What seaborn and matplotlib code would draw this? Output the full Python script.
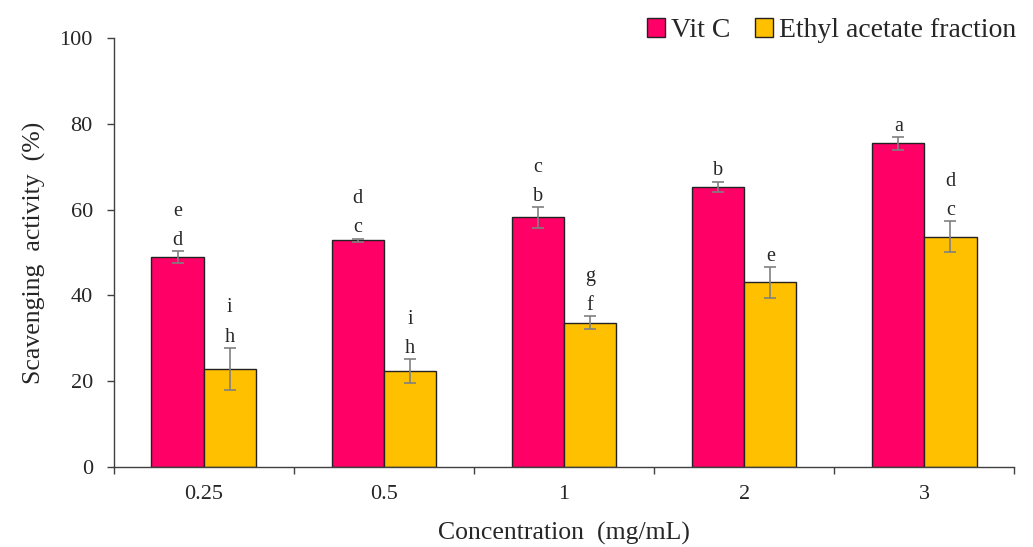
import numpy as np
import pandas as pd
import seaborn as sns
import matplotlib.pyplot as plt
from matplotlib.patches import Patch

concentrations = ["0.25", "0.5", "1", "2", "3"]
series = ["Vit C", "Ethyl acetate fraction"]

vitc_mean = [48.9, 52.8, 58.2, 65.3, 75.4]
vitc_err = [1.4, 0.4, 2.4, 1.2, 1.5]
ethyl_mean = [22.9, 22.3, 33.6, 43.0, 53.7]
ethyl_err = [4.9, 2.8, 1.5, 3.6, 3.6]

# significance letters (lower line, upper line)
vitc_lower = ["d", "c", "b", "b", "a"]
vitc_upper = ["e", "d", "c", "", ""]
ethyl_lower = ["h", "h", "f", "e", "c"]
ethyl_upper = ["i", "i", "g", "", "d"]

colors = ["#FF0066", "#FFC000"]

df = pd.DataFrame({
    "conc": concentrations * 2,
    "series": [series[0]] * 5 + [series[1]] * 5,
    "value": vitc_mean + ethyl_mean,
})

sns.set_style("white")
plt.rcParams["font.family"] = ["Liberation Serif", "DejaVu Serif"]

fig = plt.figure(figsize=(10.33, 5.47), dpi=100)
ax = fig.add_axes([0.110, 0.146, 0.872, 0.785])

sns.barplot(data=df, x="conc", y="value", hue="series", order=concentrations,
            hue_order=series, palette=colors, width=0.58, errorbar=None,
            edgecolor="#222222", linewidth=1.0, saturation=1, ax=ax, legend=False)

means = [vitc_mean, ethyl_mean]
errs = [vitc_err, ethyl_err]
lowers = [vitc_lower, ethyl_lower]
uppers = [vitc_upper, ethyl_upper]
bar_groups = list(ax.containers)
for k, cont in enumerate(bar_groups):
    xs = [p.get_x() + p.get_width() / 2 for p in cont.patches]
    ax.errorbar(xs, means[k], yerr=errs[k], fmt="none", ecolor="#808080",
                elinewidth=1.2, capsize=4, capthick=1.2, zorder=3)
    for i, x in enumerate(xs):
        top = means[k][i] + errs[k][i]
        ax.annotate(lowers[k][i], (x, top), xytext=(0, 4.5), textcoords="offset points",
                    ha="center", va="baseline", fontsize=14.5)
        if uppers[k][i]:
            ax.annotate(uppers[k][i], (x, top), xytext=(0, 25.5), textcoords="offset points",
                        ha="center", va="baseline", fontsize=14.5)

ax.set_ylim(0, 100)
ax.set_xlim(-0.5, 4.5)
ax.set_yticks(np.arange(0, 101, 20))
ax.set_xticks(range(5))
ax.set_xticklabels(concentrations)
ax.set_xticks(np.arange(-0.5, 5, 1), minor=True)
ax.tick_params(axis="x", which="major", length=0, pad=13, labelsize=16)
ax.tick_params(axis="x", which="minor", length=5, width=1, direction="out", color="#404040")
ax.tick_params(axis="y", length=5, width=1, direction="out", color="#404040", labelsize=16, pad=10)
ax.tick_params(axis="both", left=True, bottom=True, which="both")

for s in ["top", "right"]:
    ax.spines[s].set_visible(False)
for s in ["left", "bottom"]:
    ax.spines[s].set_color("#404040")
    ax.spines[s].set_linewidth(1.0)

ax.set_xlabel("Concentration  (mg/mL)", fontsize=18.5)
ax.set_ylabel("Scavenging  activity  (%)", fontsize=18.5)
ax.xaxis.set_label_coords(0.5, -0.128)
ax.yaxis.set_label_coords(-0.075, 0.5)

handles = [Patch(facecolor=c, edgecolor="#222222", linewidth=1.0) for c in colors]
fig.legend(handles, series, loc="upper right", bbox_to_anchor=(1.008, 1.012), ncol=2,
           frameon=False, fontsize=20, handlelength=0.65, handleheight=0.65,
           handletextpad=0.2, columnspacing=0.9)

fig.savefig("out.png", dpi=100)
